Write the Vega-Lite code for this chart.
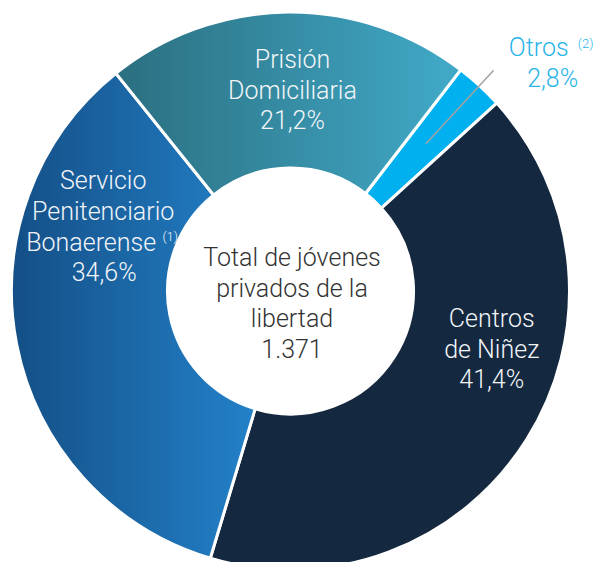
{
  "$schema": "https://vega.github.io/schema/vega-lite/v6.json",
  "width": 581,
  "height": 582,
  "padding": {"left": 0, "top": 0, "right": 14, "bottom": 0},
  "autosize": {"type": "none"},
  "background": "white",
  "config": {"view": {"stroke": null}, "text": {"font": "Roboto"}},
  "datasets": {
    "slices": [
      {"cat": "Otros", "name": "Otros", "nameTail": "", "pctLabel": "2,8%", "note": "(2)", "pct": 2.8, "ord": 1},
      {"cat": "Centros de Niñez", "name": "Centros\nde Niñez", "nameTail": "", "pctLabel": "41,4%", "note": "", "pct": 41.4, "ord": 2},
      {"cat": "Servicio Penitenciario Bonaerense", "name": "Servicio\nPenitenciario", "nameTail": "Bonaerense", "pctLabel": "34,6%", "note": "(1)", "pct": 34.6, "ord": 3},
      {"cat": "Prisión Domiciliaria", "name": "Prisión\nDomiciliaria", "nameTail": "", "pctLabel": "21,2%", "note": "", "pct": 21.2, "ord": 4}
    ],
    "center": [{"title": "Total de jóvenes\nprivados de la\nlibertad", "total": "1.371"}]
  },
  "data": {"name": "slices"},
  "layer": [
    {
      "mark": {"type": "arc", "outerRadius": 279, "innerRadius": 123, "stroke": "white", "strokeWidth": 3},
      "encoding": {
        "theta": {"field": "pct", "type": "quantitative", "stack": true, "scale": {"domain": [0, 100], "range": [0.656, 6.9392]}},
        "order": {"field": "ord", "type": "quantitative"},
        "fill": {
          "field": "cat", "type": "nominal", "legend": null,
          "scale": {"domain": ["Otros", "Centros de Niñez", "Servicio Penitenciario Bonaerense", "Prisión Domiciliaria"], "range": ["#00b0ef", "#14283f", "#1d6aad", "#3690a8"]},
          "condition": [
            {"test": "datum.cat === 'Prisión Domiciliaria'", "value": {"gradient": "linear", "x1": 0, "y1": 0, "x2": 1, "y2": 0, "stops": [{"offset": 0, "color": "#2b6f80"}, {"offset": 1, "color": "#41aac8"}]}},
            {"test": "datum.cat === 'Servicio Penitenciario Bonaerense'", "value": {"gradient": "linear", "x1": 0, "y1": 0, "x2": 1, "y2": 0, "stops": [{"offset": 0, "color": "#144f86"}, {"offset": 1, "color": "#2381c9"}]}}
          ]
        }
      }
    },
    {
      "mark": {"type": "arc", "outerRadius": 300, "innerRadius": 200, "padAngle": 0.3, "fillOpacity": 0, "stroke": "#a3a3a3", "strokeWidth": 1.5},
      "encoding": {
        "theta": {"field": "pct", "type": "quantitative", "stack": true, "scale": {"domain": [0, 100], "range": [0.656, 6.9392]}},
        "order": {"field": "ord", "type": "quantitative"},
        "strokeOpacity": {"condition": {"test": "datum.cat === 'Otros'", "value": 1}, "value": 0}
      }
    },
    {
      "mark": {"type": "text", "radius": 200, "dx": 4, "dy": -30.6, "fontSize": 25, "fontWeight": 300, "lineHeight": 30.7, "lineBreak": "\n", "fill": "#f2f5f8", "align": "center", "baseline": "middle"},
      "encoding": {
        "theta": {"field": "pct", "type": "quantitative", "stack": true, "scale": {"domain": [0, 100], "range": [0.656, 6.9392]}},
        "order": {"field": "ord", "type": "quantitative"},
        "text": {"field": "name"},
        "opacity": {"condition": {"test": "datum.cat === 'Prisión Domiciliaria'", "value": 1}, "value": 0}
      }
    },
    {
      "mark": {"type": "text", "radius": 200, "dx": 4, "dy": 30, "fontSize": 25, "fontWeight": 300, "fill": "#f2f5f8", "align": "center", "baseline": "middle"},
      "encoding": {
        "theta": {"field": "pct", "type": "quantitative", "stack": true, "scale": {"domain": [0, 100], "range": [0.656, 6.9392]}},
        "order": {"field": "ord", "type": "quantitative"},
        "text": {"field": "pctLabel"},
        "opacity": {"condition": {"test": "datum.cat === 'Prisión Domiciliaria'", "value": 1}, "value": 0}
      }
    },
    {
      "mark": {"type": "text", "radius": 200, "dx": 9, "dy": -148, "fontSize": 25, "fontWeight": 300, "lineHeight": 30.7, "lineBreak": "\n", "fill": "#f2f5f8", "align": "center", "baseline": "middle"},
      "encoding": {
        "theta": {"field": "pct", "type": "quantitative", "stack": true, "scale": {"domain": [0, 100], "range": [0.656, 6.9392]}},
        "order": {"field": "ord", "type": "quantitative"},
        "text": {"field": "name"},
        "opacity": {"condition": {"test": "datum.cat === 'Servicio Penitenciario Bonaerense'", "value": 1}, "value": 0}
      }
    },
    {
      "mark": {"type": "text", "radius": 200, "dx": -3, "dy": -86.5, "fontSize": 25, "fontWeight": 300, "fill": "#f2f5f8", "align": "center", "baseline": "middle"},
      "encoding": {
        "theta": {"field": "pct", "type": "quantitative", "stack": true, "scale": {"domain": [0, 100], "range": [0.656, 6.9392]}},
        "order": {"field": "ord", "type": "quantitative"},
        "text": {"field": "nameTail"},
        "opacity": {"condition": {"test": "datum.cat === 'Servicio Penitenciario Bonaerense'", "value": 1}, "value": 0}
      }
    },
    {
      "mark": {"type": "text", "radius": 200, "dx": 10, "dy": -56, "fontSize": 25, "fontWeight": 300, "fill": "#f2f5f8", "align": "center", "baseline": "middle"},
      "encoding": {
        "theta": {"field": "pct", "type": "quantitative", "stack": true, "scale": {"domain": [0, 100], "range": [0.656, 6.9392]}},
        "order": {"field": "ord", "type": "quantitative"},
        "text": {"field": "pctLabel"},
        "opacity": {"condition": {"test": "datum.cat === 'Servicio Penitenciario Bonaerense'", "value": 1}, "value": 0}
      }
    },
    {
      "mark": {"type": "text", "radius": 200, "dx": 76, "dy": -92, "fontSize": 13, "fontWeight": 300, "fill": "#f2f5f8", "align": "center", "baseline": "middle"},
      "encoding": {
        "theta": {"field": "pct", "type": "quantitative", "stack": true, "scale": {"domain": [0, 100], "range": [0.656, 6.9392]}},
        "order": {"field": "ord", "type": "quantitative"},
        "text": {"field": "note"},
        "opacity": {"condition": {"test": "datum.cat === 'Servicio Penitenciario Bonaerense'", "value": 1}, "value": 0}
      }
    },
    {
      "mark": {"type": "text", "radius": 200, "dx": 32, "dy": -78.3, "fontSize": 25, "fontWeight": 300, "lineHeight": 30.7, "lineBreak": "\n", "fill": "#f2f5f8", "align": "center", "baseline": "middle"},
      "encoding": {
        "theta": {"field": "pct", "type": "quantitative", "stack": true, "scale": {"domain": [0, 100], "range": [0.656, 6.9392]}},
        "order": {"field": "ord", "type": "quantitative"},
        "text": {"field": "name"},
        "opacity": {"condition": {"test": "datum.cat === 'Centros de Niñez'", "value": 1}, "value": 0}
      }
    },
    {
      "mark": {"type": "text", "radius": 200, "dx": 32, "dy": -18, "fontSize": 25, "fontWeight": 300, "fill": "#f2f5f8", "align": "center", "baseline": "middle"},
      "encoding": {
        "theta": {"field": "pct", "type": "quantitative", "stack": true, "scale": {"domain": [0, 100], "range": [0.656, 6.9392]}},
        "order": {"field": "ord", "type": "quantitative"},
        "text": {"field": "pctLabel"},
        "opacity": {"condition": {"test": "datum.cat === 'Centros de Niñez'", "value": 1}, "value": 0}
      }
    },
    {
      "mark": {"type": "text", "radius": 300, "dx": 45, "dy": -22, "fontSize": 25, "fontWeight": 300, "fill": "#2ab4e9", "align": "center", "baseline": "middle"},
      "encoding": {
        "theta": {"field": "pct", "type": "quantitative", "stack": true, "scale": {"domain": [0, 100], "range": [0.656, 6.9392]}},
        "order": {"field": "ord", "type": "quantitative"},
        "text": {"field": "name"},
        "opacity": {"condition": {"test": "datum.cat === 'Otros'", "value": 1}, "value": 0}
      }
    },
    {
      "mark": {"type": "text", "radius": 300, "dx": 59, "dy": 8.5, "fontSize": 25, "fontWeight": 300, "fill": "#2ab4e9", "align": "center", "baseline": "middle"},
      "encoding": {
        "theta": {"field": "pct", "type": "quantitative", "stack": true, "scale": {"domain": [0, 100], "range": [0.656, 6.9392]}},
        "order": {"field": "ord", "type": "quantitative"},
        "text": {"field": "pctLabel"},
        "opacity": {"condition": {"test": "datum.cat === 'Otros'", "value": 1}, "value": 0}
      }
    },
    {
      "mark": {"type": "text", "radius": 300, "dx": 92, "dy": -26, "fontSize": 13, "fontWeight": 300, "fill": "#2ab4e9", "align": "center", "baseline": "middle"},
      "encoding": {
        "theta": {"field": "pct", "type": "quantitative", "stack": true, "scale": {"domain": [0, 100], "range": [0.656, 6.9392]}},
        "order": {"field": "ord", "type": "quantitative"},
        "text": {"field": "note"},
        "opacity": {"condition": {"test": "datum.cat === 'Otros'", "value": 1}, "value": 0}
      }
    },
    {
      "data": {"name": "center"},
      "mark": {"type": "text", "dx": 1.5, "dy": -33, "fontSize": 25, "fontWeight": 300, "lineHeight": 30.7, "lineBreak": "\n", "fill": "#333333", "align": "center", "baseline": "middle"},
      "encoding": {"text": {"field": "title"}}
    },
    {
      "data": {"name": "center"},
      "mark": {"type": "text", "dx": 1.5, "dy": 59, "fontSize": 25, "fontWeight": 300, "fill": "#333333", "align": "center", "baseline": "middle"},
      "encoding": {"text": {"field": "total"}}
    }
  ]
}
